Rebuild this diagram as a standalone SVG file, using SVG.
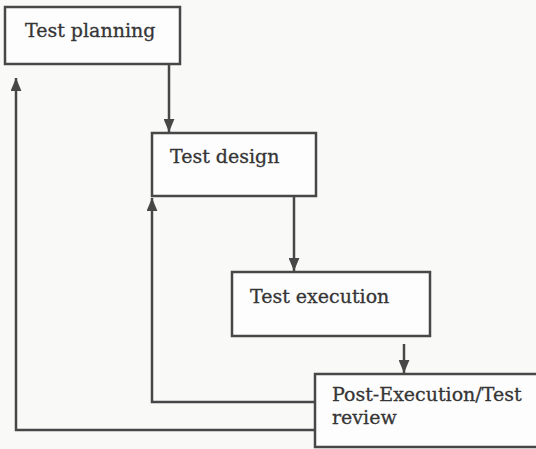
<svg xmlns="http://www.w3.org/2000/svg" width="536" height="449" viewBox="0 0 536 449">
  <style>
    .box { fill: #fdfdfd; stroke: #474747; stroke-width: 2.5; }
    .lbl { font-family: "DejaVu Serif", "Liberation Serif", serif; font-size: 19px; fill: #353535; stroke: #353535; stroke-width: 0.3; }
    .wire { fill: none; stroke: #474747; stroke-width: 2.5; }
  </style>
  <defs>
    <!-- filled triangle head shared by every connector -->
    <marker id="arrow" viewBox="0 0 12 10" refX="12" refY="5" markerWidth="13" markerHeight="11" markerUnits="userSpaceOnUse" orient="auto">
      <path d="M0,0 L12,5 L0,10 z" fill="#474747"/>
    </marker>
  </defs>
  <rect width="536" height="449" fill="#f9f9f8"/>

  <g id="connectors">
    <line class="wire" x1="169" y1="64" x2="169" y2="132" marker-end="url(#arrow)"/>
    <line class="wire" x1="294" y1="196" x2="294" y2="271" marker-end="url(#arrow)"/>
    <line class="wire" x1="404" y1="344" x2="404" y2="373" marker-end="url(#arrow)"/>
    <polyline class="wire" points="315,402 152,402 152,198" marker-end="url(#arrow)"/>
    <polyline class="wire" points="315,430 16,430 16,78" marker-end="url(#arrow)"/>
  </g>

  <g id="test-planning">
    <rect class="box" x="5" y="7" width="175" height="57"/>
    <text class="lbl" x="25" y="37">Test planning</text>
  </g>

  <g id="test-design">
    <rect class="box" x="152" y="133" width="164" height="63"/>
    <text class="lbl" x="170" y="163">Test design</text>
  </g>

  <g id="test-execution">
    <rect class="box" x="232" y="272" width="198" height="64"/>
    <text class="lbl" x="250" y="303">Test execution</text>
  </g>

  <g id="post-execution-review">
    <rect class="box" x="315" y="374" width="230" height="73"/>
    <text class="lbl" x="332" y="401">Post-Execution/Test</text>
    <text class="lbl" x="332" y="424">review</text>
  </g>
</svg>
